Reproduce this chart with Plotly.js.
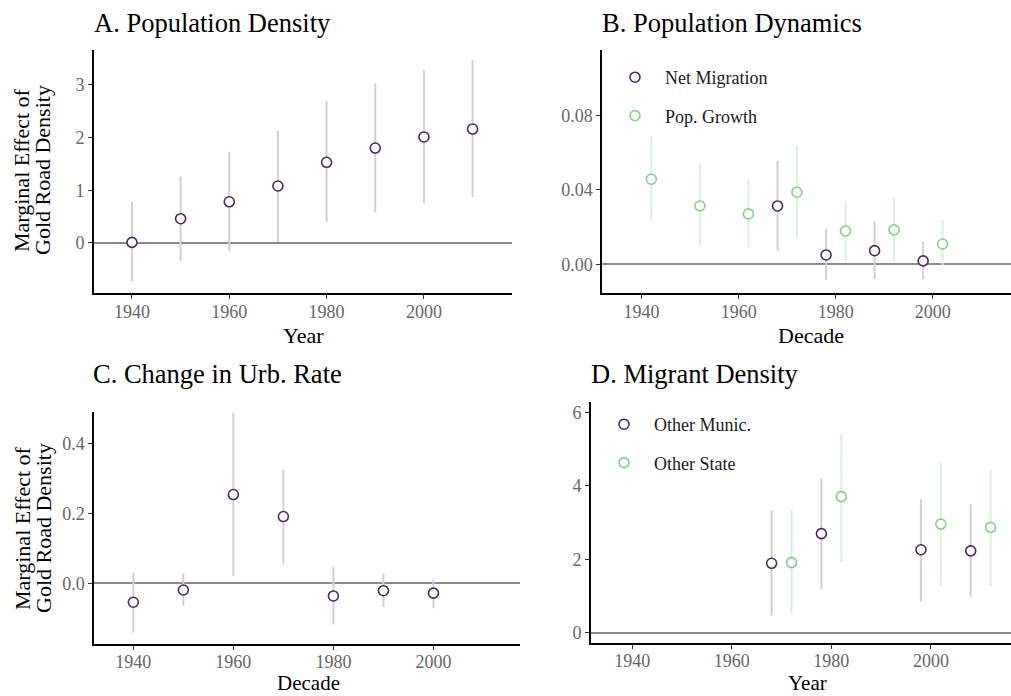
<!DOCTYPE html>
<html>
<head>
<meta charset="utf-8">
<script src="https://cdn.plot.ly/plotly-3.0.1.min.js"></script>
<style>
  html, body { margin: 0; padding: 0; background: #ffffff; }
  #chart { width: 1011px; height: 696px; }
</style>
</head>
<body>
<div id="chart"></div>
<script>
// ---- A. Population density: estimate and 95% interval by census year
const popDensYear = [1940, 1950, 1960, 1970, 1980, 1990, 2000, 2010];
const popDensEst  = [0.01, 0.46, 0.78, 1.08, 1.53, 1.80, 2.01, 2.16];
const popDensLo   = [-0.73, -0.34, -0.16, 0.02, 0.39, 0.58, 0.75, 0.87];
const popDensHi   = [0.78, 1.26, 1.73, 2.13, 2.69, 3.03, 3.28, 3.47];

// ---- B. Population dynamics (series drawn slightly either side of the decade)
const netMigDecade = [1968, 1978, 1988, 1998];
const netMigEst    = [0.0314, 0.0050, 0.0073, 0.0018];
const netMigLo     = [0.0073, -0.0085, -0.0081, -0.0081];
const netMigHi     = [0.0558, 0.0188, 0.0229, 0.0122];

const popGrowDecade = [1942, 1952, 1962, 1972, 1982, 1992, 2002];
const popGrowEst    = [0.0458, 0.0314, 0.0271, 0.0388, 0.0179, 0.0185, 0.0109];
const popGrowLo     = [0.0235, 0.0095, 0.0086, 0.0135, 0.0019, 0.0014, -0.0004];
const popGrowHi     = [0.0687, 0.0538, 0.0454, 0.0639, 0.0337, 0.0361, 0.0239];

// ---- C. Change in urbanisation rate
const urbDecade = [1940, 1950, 1960, 1970, 1980, 1990, 2000];
const urbEst    = [-0.054, -0.019, 0.254, 0.191, -0.036, -0.021, -0.028];
const urbLo     = [-0.141, -0.064, 0.021, 0.056, -0.118, -0.068, -0.071];
const urbHi     = [0.031, 0.028, 0.488, 0.325, 0.047, 0.028, 0.012];

// ---- D. Migrant density
const muniYear = [1968, 1978, 1998, 2008];
const muniEst  = [1.89, 2.70, 2.26, 2.23];
const muniLo   = [0.47, 1.19, 0.85, 0.97];
const muniHi   = [3.33, 4.20, 3.64, 3.50];

const stateYear = [1972, 1982, 2002, 2012];
const stateEst  = [1.91, 3.71, 2.96, 2.87];
const stateLo   = [0.47, 1.93, 1.28, 1.28];
const stateHi   = [3.34, 5.44, 4.63, 4.42];

// ---- tick labels and text
const xTicks = [1940, 1960, 1980, 2000];
const yTicksA = [0, 1, 2, 3];
const yTicksB = [0, 0.04, 0.08];
const yTicksC = [0, 0.2, 0.4];
const yTicksD = [0, 2, 4, 6];
const panelTitles = ['A. Population Density', 'B. Population Dynamics',
                     'C. Change in Urb. Rate', 'D. Migrant Density'];
const xTitles = ['Year', 'Decade', 'Decade', 'Year'];
const yTitleLines = ['Marginal Effect of', 'Gold Road Density'];
const seriesNames = ['Net Migration', 'Pop. Growth', 'Other Munic.', 'Other State'];

// ---- styling
const SERIF = '"Liberation Serif", "Times New Roman", serif';
const PURPLE = '#4a2a62';
const PURPLE_BAR = '#d3cdd8';
const GREEN = '#86cf8a';
const GREEN_BAR = '#dcefdf';
const TICK_GREY = '#666666';

function ciTrace(x, est, lo, hi, xa, ya, line, bar, extra) {
  return Object.assign({
    type: 'scatter', mode: 'markers', x: x, y: est, xaxis: xa, yaxis: ya,
    error_y: {
      type: 'data', symmetric: false,
      array: hi.map((h, i) => h - est[i]),
      arrayminus: lo.map((l, i) => est[i] - l),
      color: bar, thickness: 2, width: 0
    },
    marker: { symbol: 'circle', size: 10, color: '#ffffff',
              line: { color: line, width: 1.6 } },
    showlegend: false, hoverinfo: 'x+y'
  }, extra || {});
}

const traces = [
  ciTrace(popDensYear, popDensEst, popDensLo, popDensHi, 'x', 'y', PURPLE, PURPLE_BAR),
  ciTrace(netMigDecade, netMigEst, netMigLo, netMigHi, 'x2', 'y2', PURPLE, PURPLE_BAR,
          { name: seriesNames[0], showlegend: true, legend: 'legend', legendgroup: 'nm' }),
  ciTrace(popGrowDecade, popGrowEst, popGrowLo, popGrowHi, 'x2', 'y2', GREEN, GREEN_BAR,
          { name: seriesNames[1], showlegend: true, legend: 'legend', legendgroup: 'pg' }),
  ciTrace(urbDecade, urbEst, urbLo, urbHi, 'x3', 'y3', PURPLE, PURPLE_BAR),
  ciTrace(muniYear, muniEst, muniLo, muniHi, 'x4', 'y4', PURPLE, PURPLE_BAR,
          { name: seriesNames[2], showlegend: true, legend: 'legend2', legendgroup: 'om' }),
  ciTrace(stateYear, stateEst, stateLo, stateHi, 'x4', 'y4', GREEN, GREEN_BAR,
          { name: seriesNames[3], showlegend: true, legend: 'legend2', legendgroup: 'os' })
];

const W = 1011, H = 696;
const px = v => v / W;
const py = v => 1 - v / H;

function xAxis(l, r, range, anchor) {
  return {
    domain: [px(l), px(r)], range: range, anchor: anchor,
    tickvals: xTicks, ticks: 'outside', ticklen: 4, tickwidth: 1, tickcolor: '#333333',
    ticklabelstandoff: -3,
    tickfont: { family: SERIF, size: 18, color: TICK_GREY },
    showline: true, linecolor: '#000000', linewidth: 2,
    showgrid: false, zeroline: false, automargin: false, fixedrange: true
  };
}
function yAxis(top, bottom, range, anchor, ticks, fmt) {
  return {
    domain: [py(bottom), py(top)], range: range, anchor: anchor,
    tickvals: ticks, tickformat: fmt, ticks: 'outside', ticklen: 4, tickwidth: 1,
    tickcolor: '#333333',
    tickfont: { family: SERIF, size: 18, color: TICK_GREY },
    showline: true, linecolor: '#000000', linewidth: 2,
    showgrid: false, zeroline: true, zerolinecolor: '#8a8a8a', zerolinewidth: 2,
    automargin: false, fixedrange: true
  };
}

const textAnn = (x, y, text, size, xanchor, angle, yanchor) => ({
  text: text, x: px(x), y: py(y), xref: 'paper', yref: 'paper',
  xanchor: xanchor, yanchor: yanchor || 'middle', textangle: angle || 0,
  showarrow: false, borderpad: 0,
  font: { family: SERIF, size: size, color: '#000000' }
});

// panel titles
const titleAnns = [
  textAnn(93, 23, panelTitles[0], 26.5, 'left'),
  textAnn(601, 23, panelTitles[1], 26.5, 'left'),
  textAnn(92, 374, panelTitles[2], 26.5, 'left'),
  textAnn(590, 374, panelTitles[3], 26.5, 'left')
];
// x-axis titles, centred under each panel
const xTitleAnns = [
  textAnn(303, 335, xTitles[0], 22, 'center'),
  textAnn(811, 335, xTitles[1], 22, 'center'),
  textAnn(308, H, xTitles[2], 21, 'center', 0, 'bottom'),
  textAnn(807, H, xTitles[3], 21, 'center', 0, 'bottom')
];
// y-axis title set as two tightly spaced rotated lines
const yTitleAnns = (centerY) => yTitleLines.map((line, i) =>
  textAnn(22 + i * 21, centerY, line, 22, 'center', -90));

const legendStyle = (x, y) => ({
  x: px(x), y: py(y), xanchor: 'left', yanchor: 'top',
  bgcolor: 'rgba(0,0,0,0)', borderwidth: 0,
  itemwidth: 50, tracegroupgap: 12,
  font: { family: SERIF, size: 18, color: '#1a1a1a' }
});

const layout = {
  width: W, height: H,
  margin: { l: 0, r: 0, t: 0, b: 0 },
  paper_bgcolor: '#ffffff', plot_bgcolor: '#ffffff',
  showlegend: true,
  xaxis:  xAxis(94, 512, [1932.2, 2018.1], 'y'),
  yaxis:  yAxis(50, 293, [-0.95, 3.66], 'x', yTicksA, 'd'),
  xaxis2: xAxis(602.3, 1011, [1931.9, 2016.1], 'y2'),
  yaxis2: yAxis(50, 293, [-0.0155, 0.1154], 'x2', yTicksB, '.2f'),
  xaxis3: xAxis(94.3, 520, [1932.2, 2017.3], 'y3'),
  yaxis3: yAxis(412, 643.5, [-0.172, 0.49], 'x3', yTicksC, '.1f'),
  xaxis4: xAxis(591, 1011, [1931.7, 2016.1], 'y4'),
  yaxis4: yAxis(402, 642.5, [-0.27, 6.29], 'x4', yTicksD, 'd'),
  legend: legendStyle(605, 59),
  legend2: legendStyle(594, 406),
  annotations: titleAnns.concat(xTitleAnns, yTitleAnns(170), yTitleAnns(528))
};

Plotly.newPlot('chart', traces, layout, { displayModeBar: false, staticPlot: true });
</script>
</body>
</html>
